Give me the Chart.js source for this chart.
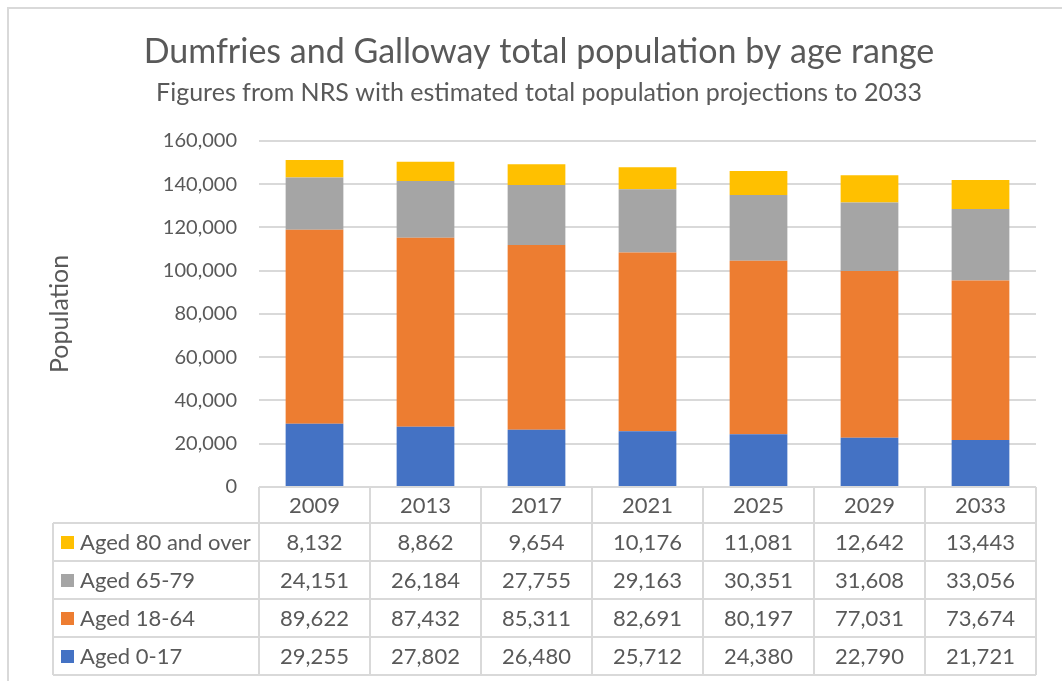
<!DOCTYPE html>
<html>
<head>
<meta charset="utf-8">
<script src="https://cdn.jsdelivr.net/npm/chart.js@4/dist/chart.umd.min.js"></script>
<style>
  html, body { margin: 0; padding: 0; background: #fff; }
  #wrap { width: 1062px; height: 681px; position: relative; }
</style>
</head>
<body>
<div id="wrap"><canvas id="popChart" width="1062" height="681"></canvas></div>
<script>
// data
var years = ['2009', '2013', '2017', '2021', '2025', '2029', '2033'];
var aged0to17 = [29255, 27802, 26480, 25712, 24380, 22790, 21721];
var aged18to64 = [89622, 87432, 85311, 82691, 80197, 77031, 73674];
var aged65to79 = [24151, 26184, 27755, 29163, 30351, 31608, 33056];
var aged80plus = [8132, 8862, 9654, 10176, 11081, 12642, 13443];
var yTicks = [0, 20000, 40000, 60000, 80000, 100000, 120000, 140000, 160000];

var textGrey = '#595959';
var lineGrey = '#d9d9d9';
var fontFamily = 'Lato, "Noto Sans", sans-serif';

function fmt(n) {
    return n.toLocaleString('en-GB');
}

// draws the data table under the bars, columns lined up with the x scale
var dataTablePlugin = {
    id: 'dataTable',
    afterDraw: function (chart) {
        var ctx = chart.ctx;
        var area = chart.chartArea;
        var xScale = chart.scales.x;
        var colW = (area.right - area.left) / years.length;
        var legendLeft = 53;
        var headerH = 36, rowH = 38;
        var top = area.bottom;
        var rowsTop = top + headerH;
        // table rows are listed top-down, reverse of stacking order
        var rows = chart.data.datasets.slice().reverse();
        var bottom = rowsTop + rows.length * rowH;

        ctx.save();
        ctx.strokeStyle = lineGrey;
        ctx.lineWidth = 2;
        ctx.beginPath();
        // header row (years only)
        ctx.moveTo(area.left, top); ctx.lineTo(area.right, top);
        // row lines
        for (var r = 0; r <= rows.length; r++) {
            var y = rowsTop + r * rowH;
            ctx.moveTo(legendLeft, y); ctx.lineTo(area.right, y);
        }
        // vertical lines
        ctx.moveTo(legendLeft, rowsTop); ctx.lineTo(legendLeft, bottom);
        for (var c = 0; c <= years.length; c++) {
            var x = area.left + c * colW;
            ctx.moveTo(x, top); ctx.lineTo(x, bottom);
        }
        ctx.stroke();

        ctx.fillStyle = textGrey;
        ctx.font = '22px ' + fontFamily;
        ctx.textBaseline = 'middle';
        ctx.textAlign = 'center';
        years.forEach(function (yr, i) {
            ctx.fillText(yr, xScale.getPixelForValue(i), top + headerH / 2 + 1);
        });

        rows.forEach(function (ds, r) {
            var cy = rowsTop + r * rowH + rowH / 2 + 1;
            ctx.fillStyle = ds.backgroundColor;
            ctx.fillRect(legendLeft + 8, cy - 7, 13, 13);
            ctx.fillStyle = textGrey;
            ctx.textAlign = 'left';
            ctx.fillText(ds.label, legendLeft + 27, cy);
            ctx.textAlign = 'center';
            ds.data.forEach(function (v, i) {
                ctx.fillText(fmt(v), xScale.getPixelForValue(i), cy);
            });
        });

        // outer chart frame
        ctx.lineWidth = 2;
        ctx.strokeRect(8, 8, 1080, 700);
        ctx.restore();
    }
};

new Chart(document.getElementById('popChart'), {
    type: 'bar',
    data: {
        labels: years,
        datasets: [
            { label: 'Aged 0-17', data: aged0to17, backgroundColor: '#4472C4' },
            { label: 'Aged 18-64', data: aged18to64, backgroundColor: '#ED7D31' },
            { label: 'Aged 65-79', data: aged65to79, backgroundColor: '#A5A5A5' },
            { label: 'Aged 80 and over', data: aged80plus, backgroundColor: '#FFC000' }
        ]
    },
    options: {
        responsive: false,
        animation: false,
        devicePixelRatio: 1,
        layout: { padding: { left: 42, right: 26, top: 0, bottom: 0 } },
        datasets: {
            bar: { categoryPercentage: 1, barPercentage: 0.52, borderWidth: 0 }
        },
        plugins: {
            legend: { display: false },
            tooltip: { enabled: false },
            title: {
                display: true,
                text: 'Dumfries and Galloway total population by age range',
                color: textGrey,
                font: { family: fontFamily, size: 34, weight: 'normal' },
                padding: { top: 32, bottom: 0 }
            },
            subtitle: {
                display: true,
                text: 'Figures from NRS with estimated total population projections to 2033',
                color: textGrey,
                font: { family: fontFamily, size: 25, weight: 'normal' },
                padding: { top: 5, bottom: 33 }
            }
        },
        scales: {
            x: {
                stacked: true,
                grid: { display: false },
                border: { display: false },
                ticks: { display: false },
                afterFit: function (scale) { scale.height = 194; }
            },
            y: {
                stacked: true,
                min: 0,
                max: 160000,
                afterBuildTicks: function (scale) {
                    scale.ticks = yTicks.map(function (v) { return { value: v }; });
                },
                afterFit: function (scale) { scale.width = 259 - 42; },
                grid: { color: lineGrey, lineWidth: 2, drawTicks: false },
                border: { display: false },
                ticks: {
                    color: textGrey,
                    padding: 22,
                    font: { family: fontFamily, size: 20 },
                    callback: function (v) { return fmt(v); }
                },
                title: {
                    display: true,
                    text: 'Population',
                    color: textGrey,
                    font: { family: fontFamily, size: 25 },
                    padding: { top: 3, bottom: 0 }
                }
            }
        }
    },
    plugins: [dataTablePlugin]
});
</script>
</body>
</html>
